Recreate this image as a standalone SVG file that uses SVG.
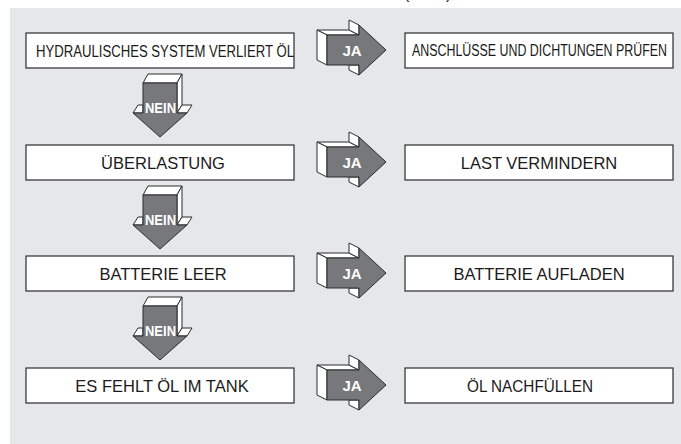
<svg xmlns="http://www.w3.org/2000/svg" xmlns:xlink="http://www.w3.org/1999/xlink" width="681" height="444" viewBox="0 0 681 444">
<style>
.box{fill:#ffffff;stroke:#2b2b2b;stroke-width:1.2}
.t{font-family:"Liberation Sans",Arial,sans-serif;font-size:16.5px;fill:#1a1a1a;text-anchor:middle}
.tl{font-family:"Liberation Sans",Arial,sans-serif;font-size:16px;fill:#1a1a1a}
.front{fill:#77787b;stroke:#2b2b2b;stroke-width:1;stroke-linejoin:miter}
.face{fill:#ffffff;stroke:#2b2b2b;stroke-width:1;stroke-linejoin:miter}
.lbl{font-family:"Liberation Sans",Arial,sans-serif;font-weight:bold;font-size:15px;fill:#ffffff;text-anchor:middle}
</style>
<defs>
<g id="ja-arrow">
<polygon class="face" points="317,30 349,30 359,35 327,35"/>
<polygon class="face" points="349,20 359,25 359,35 349,30"/>
<polygon class="face" points="317,30 327,35 327,65 317,60"/>
<polygon class="face" points="349,65 359,65 359,75 349,70"/>
<polygon class="front" points="327,35 359,35 359,25 386,50 359,75 359,65 327,65"/>
</g>
<g id="nein-arrow">
<polygon class="face" points="143,83 148,74 182,74 177,83"/>
<polygon class="face" points="177,83 182,74 182,105 177,113"/>
<polygon class="face" points="177,113 182,105 192,105 187,113"/>
<polygon class="face" points="133,113 138,105 143,105 143,113"/>
<polygon class="front" points="143,83 177,83 177,113 187,113 160,137 133,113 143,113"/>
</g>
</defs>
<rect x="0" y="0" width="681" height="444" fill="#ffffff"/>
<rect x="10" y="8" width="671" height="436" fill="#e6e7e8"/>
<text class="tl" x="404" y="-1">(</text>
<text class="tl" x="446" y="-1">)</text>
<g id="connectors">
<use xlink:href="#ja-arrow"/>
<use xlink:href="#ja-arrow" transform="translate(0,112)"/>
<use xlink:href="#ja-arrow" transform="translate(0,223)"/>
<use xlink:href="#ja-arrow" transform="translate(0,335)"/>
<text class="lbl" x="352" y="56">JA</text>
<text class="lbl" x="352" y="168">JA</text>
<text class="lbl" x="352" y="279">JA</text>
<text class="lbl" x="352" y="391">JA</text>
<use xlink:href="#nein-arrow"/>
<use xlink:href="#nein-arrow" transform="translate(0,112)"/>
<use xlink:href="#nein-arrow" transform="translate(0,223)"/>
<text class="lbl" x="160.5" y="113" textLength="31" lengthAdjust="spacingAndGlyphs">NEIN</text>
<text class="lbl" x="160.5" y="225" textLength="31" lengthAdjust="spacingAndGlyphs">NEIN</text>
<text class="lbl" x="160.5" y="336" textLength="31" lengthAdjust="spacingAndGlyphs">NEIN</text>
</g>
<g id="q1">
<rect class="box" x="26" y="33" width="268" height="35"/>
<text class="tl" x="36" y="56.5" textLength="258" lengthAdjust="spacingAndGlyphs">HYDRAULISCHES SYSTEM VERLIERT ÖL</text>
</g>
<g id="a1">
<rect class="box" x="405" y="33" width="268" height="35"/>
<text class="tl" x="412" y="56" textLength="255" lengthAdjust="spacingAndGlyphs">ANSCHLÜSSE UND DICHTUNGEN PRÜFEN</text>
</g>
<g id="q2">
<rect class="box" x="26" y="145" width="268" height="35"/>
<text class="t" x="163" y="168.5">ÜBERLASTUNG</text>
</g>
<g id="a2">
<rect class="box" x="405" y="145" width="268" height="35"/>
<text class="t" x="539" y="168.5">LAST VERMINDERN</text>
</g>
<g id="q3">
<rect class="box" x="26" y="256" width="268" height="35"/>
<text class="t" x="163" y="279.5">BATTERIE LEER</text>
</g>
<g id="a3">
<rect class="box" x="405" y="256" width="268" height="35"/>
<text class="t" x="539" y="279.5">BATTERIE AUFLADEN</text>
</g>
<g id="q4">
<rect class="box" x="26" y="368" width="268" height="35"/>
<text class="t" x="162" y="391.5">ES FEHLT ÖL IM TANK</text>
</g>
<g id="a4">
<rect class="box" x="405" y="368" width="268" height="35"/>
<text class="t" x="530" y="391.5" textLength="126" lengthAdjust="spacingAndGlyphs">ÖL NACHFÜLLEN</text>
</g>
</svg>
